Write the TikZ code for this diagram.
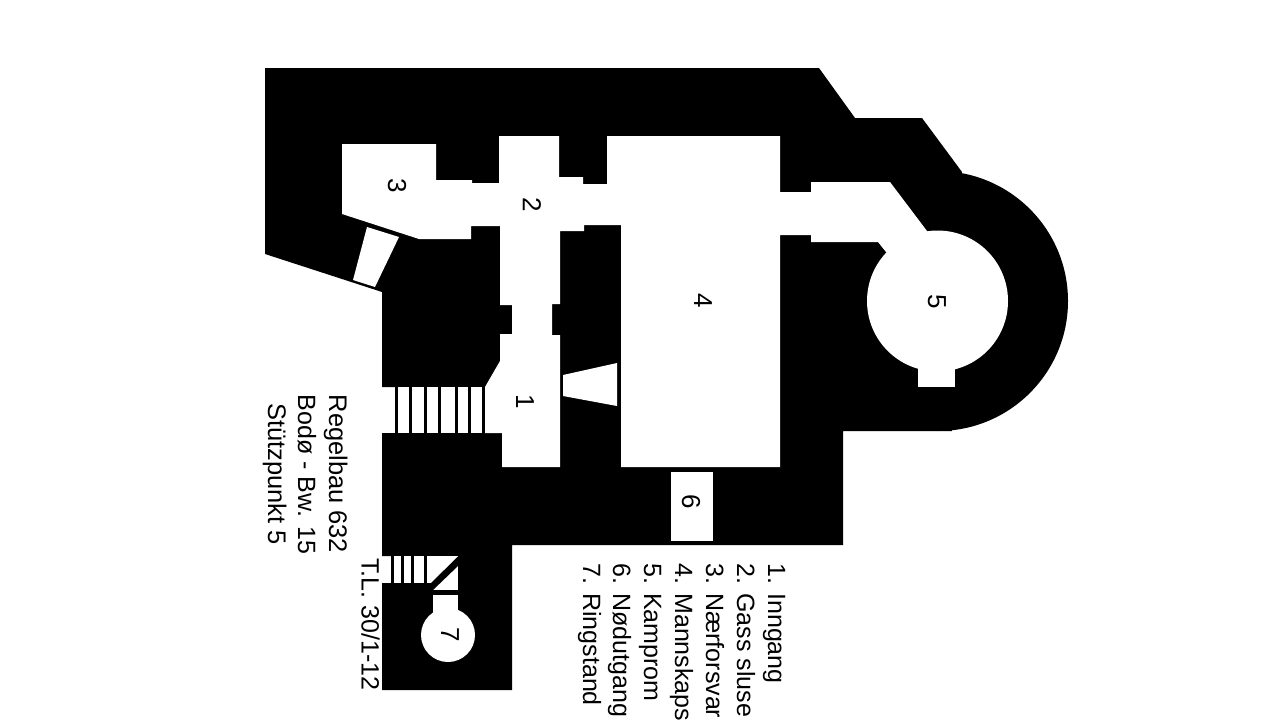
\documentclass[tikz,border=0pt]{standalone}
\usepackage{fontspec}
\setmainfont{Liberation Sans}
\tikzset{
  wall/.style={fill=black,draw=none},
  room/.style={fill=white,draw=none},
  tread/.style={fill=black,draw=none},
  legend/.style={rotate=-90,anchor=base west,inner sep=0pt,font=\fontsize{25}{30}\selectfont},
  titlewide/.style={legend,font=\fontsize{25.45}{30}\selectfont},
  roomnum/.style={rotate=-90,anchor=center,inner sep=0pt,font=\fontsize{26}{30}\selectfont}
}
\begin{document}
\begin{tikzpicture}[x=1pt,y=-1pt]
\useasboundingbox (0,0) rectangle (1280,720);
\fill[white] (0,0) rectangle (1280,720);
% outer wall mass
\path[wall] (265,68) -- (819,68) -- (855,118) -- (922,118) -- (962,172) -- (938,301) -- (952,431)
  -- (843,431) -- (843,545) -- (512,545) -- (512,690) -- (382,690) -- (382,583) -- (391,583) -- (391,556) -- (382,556)
  -- (382,433) -- (395,433) -- (395,387) -- (382,387) -- (382,292) -- (265,254) -- cycle;
\path[wall] (938,301) circle[radius=130];
% main interior
\path[room] (342,144) -- (436,144) -- (436,180) -- (472,180) -- (472,183) -- (499,183) -- (499,136) -- (559,136)
  -- (559,177) -- (583,177) -- (583,184) -- (607,184) -- (607,136) -- (780,136) -- (780,192) -- (811,192) -- (811,182)
  -- (890,182) -- (927,231) -- (937.5,301) -- (886,252) -- (878,242) -- (811,242) -- (811,235) -- (780,235)
  -- (780,467) -- (621,467) -- (621,225) -- (584,225) -- (584,231) -- (560,231) -- (560,304) -- (552,304) -- (552,335)
  -- (560,335) -- (560,467) -- (502,467) -- (502,433) -- (485,433) -- (485,387) -- (500,361) -- (500,334) -- (512,334)
  -- (512,305) -- (500,305) -- (500,226) -- (471,226) -- (471,239) -- (419,239) -- (342,214) -- cycle;
\path[room] (937.5,301) circle[radius=70.5];
\path[room] (918,360) rectangle (955,387);
% embrasures and exit
\path[room] (367,227) -- (399,237) -- (375,287) -- (353,280) -- cycle;
\path[room] (563,375) -- (617,363) -- (617,406) -- (563,396) -- cycle;
\path[room] (671,472) rectangle (713,541);
% main stairs
\path[room] (395,387) rectangle (486,433);
\foreach \a/\b in {395/397.5,409/411.7,424/427,437.5/441,455/457.7,467.7/470.7,481.7/484.5}
  \path[tread] (\a,387) rectangle (\b,433);
% ringstand stairs and room
\path[room] (393.5,556) rectangle (458,583);
\foreach \a/\b in {400.7/404,410.7/414,423.5/427}
  \path[tread] (\a,556) rectangle (\b,583);
\path[room] (433,583) rectangle (458,615);
\path[room] (448,635) circle[radius=27];
\path[tread] (458.5,556) -- (458.5,565.5) -- (433,590) -- (433,583) -- (431,583) -- cycle;
\path[tread] (433,590) rectangle (458.5,594.5);
% room numbers
\node[roomnum] (n1) at (525,402) {1};
\node[roomnum] (n2) at (532,205) {2};
\node[roomnum] (n3) at (397,186) {3};
\node[roomnum] (n4) at (703,301) {4};
\node[roomnum] (n5) at (937,302) {5};
\node[roomnum] (n6) at (691,502) {6};
\node[roomnum] (n7) at (450,635) {7};
% legend
\node[legend] (l1) at (768,563) {1. Inngang};
\node[legend] (l2) at (737,563) {2. Gass sluse};
\node[legend] (l3) at (706,563) {3. Nærforsvar};
\node[legend] (l4) at (675,563) {4. Mannskaps};
\node[legend] (l5) at (644,563) {5. Kamprom};
\node[legend] (l6) at (613,563) {6. Nødutgang};
\node[legend] (l7) at (583,563) {7. Ringstand};
% title
\node[titlewide] (t1) at (329,394.5) {Regelbau 632};
\node[legend] (t2) at (298,394.5) {Bodø - Bw. 15};
\node[titlewide] (t3) at (268,403) {Stützpunkt 5};
\node[legend] (t4) at (361.5,558) {T.L. 30/1-12};
\end{tikzpicture}
\end{document}
